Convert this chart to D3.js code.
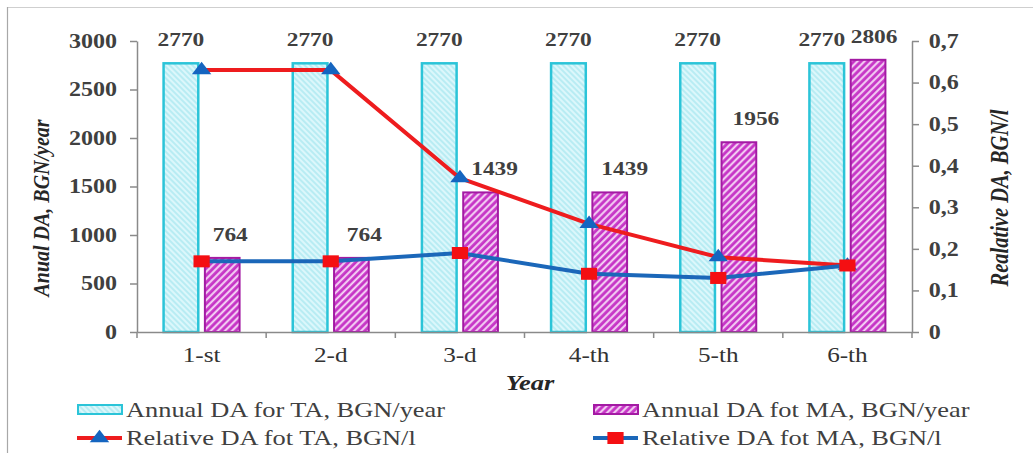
<!DOCTYPE html>
<html>
<head>
<meta charset="utf-8">
<script src="https://cdn.jsdelivr.net/npm/d3@7"></script>
<style>
  html, body { margin: 0; padding: 0; background: #ffffff; }
  svg { display: block; }
  text { font-family: "Liberation Serif", "Times New Roman", serif; }
</style>
</head>
<body>
<svg id="chart" width="1033" height="453"></svg>
<script>
// ---- data ----
const categories = ["1-st", "2-d", "3-d", "4-th", "5-th", "6-th"];
const annualTA   = [2770, 2770, 2770, 2770, 2770, 2770];
const annualMA   = [764, 764, 1439, 1439, 1956, 2806];
const relativeTA = [0.63, 0.63, 0.37, 0.26, 0.18, 0.16];
const relativeMA = [0.17, 0.17, 0.19, 0.14, 0.13, 0.16];
const leftTicks  = [0, 500, 1000, 1500, 2000, 2500, 3000];
const rightTicks = [0, 0.1, 0.2, 0.3, 0.4, 0.5, 0.6, 0.7];
const seriesNames = [
  "Annual DA for TA, BGN/year",
  "Annual DA fot MA, BGN/year",
  "Relative DA fot TA, BGN/l",
  "Relative DA fot MA, BGN/l"
];
const leftTitle  = "Anual DA, BGN/year";
const rightTitle = "Realative DA, BGN/l";
const xTitle     = "Year";

// ---- layout ----
const svg = d3.select("#chart");
const plot = { left: 137, right: 912, top: 41, bottom: 332 };
const SX = 1.2;                  // wide lettering aspect
const MX = 1.35;                 // marker aspect
const textGrey = "#404040";
const axisGrey = "#8a8a8a";
const cyanStroke = "#2bc4d8";
const magStroke = "#a31aa3";
const redLine = "#ee1c1e";
const blueLine = "#1b67b9";

// place a text element with the wide letter aspect
function place(sel, x, y, rot) {
  sel.attr("transform", `translate(${x},${y}) scale(${SX},1)` + (rot ? ` rotate(${rot})` : ""));
  return sel;
}

// outer frame (top and left edges)
svg.append("line").attr("x1", 7).attr("y1", 7.5).attr("x2", 1033).attr("y2", 7.5)
  .attr("stroke", "#cfcfcf").attr("stroke-width", 1.2);
svg.append("line").attr("x1", 7.5).attr("y1", 7).attr("x2", 7.5).attr("y2", 453)
  .attr("stroke", "#a8a8a8").attr("stroke-width", 1.2);

// hatch patterns
const defs = svg.append("defs");
const pTA = defs.append("pattern").attr("id", "hatchTA")
  .attr("patternUnits", "userSpaceOnUse").attr("width", 4).attr("height", 4)
  .attr("patternTransform", "rotate(-45)");
pTA.append("rect").attr("width", 4).attr("height", 4).attr("fill", "#dcf7fb");
pTA.append("line").attr("x1", 1).attr("y1", 0).attr("x2", 1).attr("y2", 4)
  .attr("stroke", "#95e2ec").attr("stroke-width", 1);

const pMA = defs.append("pattern").attr("id", "hatchMA")
  .attr("patternUnits", "userSpaceOnUse").attr("width", 5).attr("height", 5)
  .attr("patternTransform", "rotate(45)");
pMA.append("rect").attr("width", 5).attr("height", 5).attr("fill", "#c634c6");
pMA.append("line").attr("x1", 1.2).attr("y1", 0).attr("x2", 1.2).attr("y2", 5)
  .attr("stroke", "#f6d8f6").attr("stroke-width", 2);

// ---- scales ----
const x0 = d3.scaleBand().domain(categories).range([plot.left, plot.right]);
const bw = x0.bandwidth();
const x1 = d3.scaleBand().domain(["TA", "MA"]).range([bw / 2 - 38, bw / 2 + 38]).paddingInner(0.16);
const yL = d3.scaleLinear().domain([0, 3000]).range([plot.bottom, plot.top]);
const yR = d3.scaleLinear().domain([0, 0.7]).range([plot.bottom, plot.top]);
const cx = i => x0(categories[i]) + bw / 2;

// ---- bars ----
const groups = svg.append("g").selectAll("g").data(categories).join("g")
  .attr("transform", d => `translate(${x0(d)},0)`);
groups.append("rect")
  .attr("x", x1("TA")).attr("width", x1.bandwidth())
  .attr("y", (d, i) => yL(annualTA[i])).attr("height", (d, i) => yL(0) - yL(annualTA[i]))
  .attr("fill", "url(#hatchTA)").attr("stroke", cyanStroke).attr("stroke-width", 2.5);
groups.append("rect")
  .attr("x", x1("MA")).attr("width", x1.bandwidth())
  .attr("y", (d, i) => yL(annualMA[i])).attr("height", (d, i) => yL(0) - yL(annualMA[i]))
  .attr("fill", "url(#hatchMA)").attr("stroke", magStroke).attr("stroke-width", 2);

// ---- axes ----
const gL = svg.append("g").attr("transform", `translate(${plot.left},0)`)
  .call(d3.axisLeft(yL).tickValues(leftTicks).tickSize(7).tickSizeOuter(0).tickPadding(13)
    .tickFormat(d3.format("d")));
const gR = svg.append("g").attr("transform", `translate(${plot.right},0)`)
  .call(d3.axisRight(yR).tickValues(rightTicks).tickSize(7).tickSizeOuter(0).tickPadding(9.7)
    .tickFormat(d => d === 0 ? "0" : d3.format(".1f")(d).replace(".", ",")));
const gX = svg.append("g").attr("transform", `translate(0,${plot.bottom})`)
  .call(d3.axisBottom(x0).tickSize(0).tickSizeOuter(0));

[gL, gR, gX].forEach(g => {
  g.select(".domain").attr("stroke", axisGrey).attr("stroke-width", 1.5);
  g.selectAll(".tick line").attr("stroke", axisGrey).attr("stroke-width", 1.5);
});
[gL, gR].forEach(g => {
  g.selectAll(".tick text")
    .attr("font-size", 20).attr("font-weight", "bold").attr("fill", textGrey)
    .attr("transform", `scale(${SX},1)`)
    .attr("x", function () { return +d3.select(this).attr("x") / SX; });
});
gX.selectAll(".tick text")
  .attr("y", 30).attr("dy", 0)
  .attr("font-size", 21).attr("fill", "#333333")
  .attr("transform", `scale(${SX},1)`)
  .attr("x", 0);
// boundary tick marks on the category axis
const bounds = categories.map(c => x0(c)).concat([plot.right]);
gX.selectAll(".bound").data(bounds).join("line").attr("class", "bound")
  .attr("x1", d => d).attr("x2", d => d).attr("y1", 0).attr("y2", 6)
  .attr("stroke", axisGrey).attr("stroke-width", 1.5);

// ---- lines ----
const lineGen = d3.line().x((d, i) => cx(i)).y(d => yR(d));
svg.append("path").datum(relativeTA).attr("d", lineGen)
  .attr("fill", "none").attr("stroke", redLine).attr("stroke-width", 4).attr("stroke-linejoin", "round");
const tri = d3.symbol().type(d3.symbolTriangle).size(90);
svg.append("g").selectAll("path").data(relativeTA).join("path")
  .attr("d", tri).attr("fill", "#1565c0")
  .attr("transform", (d, i) => `translate(${cx(i)},${yR(d)}) scale(${MX},1)`);

svg.append("path").datum(relativeMA).attr("d", lineGen)
  .attr("fill", "none").attr("stroke", blueLine).attr("stroke-width", 4).attr("stroke-linejoin", "round");
const sq = d3.symbol().type(d3.symbolSquare).size(144);
svg.append("g").selectAll("path").data(relativeMA).join("path")
  .attr("d", sq).attr("fill", "#f40f12")
  .attr("transform", (d, i) => `translate(${cx(i)},${yR(d)}) scale(${MX},1)`);

// ---- value labels ----
const labelLift = 17;
const taLabelNudge = [0, 0, 0, 0, 0, -5];
const maLabelNudge = [8, 13, 14, 15, 17, 6];
const labels = svg.append("g").attr("font-size", 19.5).attr("font-weight", "bold").attr("fill", textGrey)
  .attr("text-anchor", "middle");
annualTA.forEach((v, i) => {
  place(labels.append("text").text(v),
    x0(categories[i]) + x1("TA") + x1.bandwidth() / 2 + taLabelNudge[i], yL(v) - labelLift);
});
annualMA.forEach((v, i) => {
  place(labels.append("text").text(v),
    x0(categories[i]) + x1("MA") + x1.bandwidth() / 2 + maLabelNudge[i], yL(v) - labelLift);
});

// ---- axis titles ----
place(svg.append("text").text(leftTitle)
  .attr("font-size", 20).attr("font-weight", "bold").attr("font-style", "italic")
  .attr("fill", "#262626").attr("text-anchor", "middle"), 49, 208, -90);
place(svg.append("text").text(rightTitle)
  .attr("font-size", 20.5).attr("font-weight", "bold").attr("font-style", "italic")
  .attr("fill", "#262626").attr("text-anchor", "middle"), 1008, 198, -90);
place(svg.append("text").text(xTitle)
  .attr("font-size", 22).attr("font-weight", "bold").attr("font-style", "italic")
  .attr("fill", "#262626").attr("text-anchor", "middle"), 530, 390);

// ---- legend ----
const legend = svg.append("g");
const legendText = (s, x, y) => place(legend.append("text").text(s)
  .attr("font-size", 22).attr("fill", textGrey), x, y);

legend.append("rect").attr("x", 78).attr("y", 405).attr("width", 44).attr("height", 9)
  .attr("fill", "url(#hatchTA)").attr("stroke", cyanStroke).attr("stroke-width", 2);
legendText(seriesNames[0], 126, 417);
legend.append("rect").attr("x", 594).attr("y", 405).attr("width", 44).attr("height", 9)
  .attr("fill", "url(#hatchMA)").attr("stroke", magStroke).attr("stroke-width", 2);
legendText(seriesNames[1], 642, 417);

legend.append("line").attr("x1", 77).attr("x2", 122).attr("y1", 438).attr("y2", 438)
  .attr("stroke", redLine).attr("stroke-width", 4);
legend.append("path").attr("d", tri).attr("fill", "#1565c0")
  .attr("transform", `translate(99.5,438) scale(${MX},1)`);
legendText(seriesNames[2], 126, 445);
legend.append("line").attr("x1", 593).attr("x2", 638).attr("y1", 438).attr("y2", 438)
  .attr("stroke", blueLine).attr("stroke-width", 4);
legend.append("path").attr("d", sq).attr("fill", "#f40f12")
  .attr("transform", `translate(615.5,438) scale(${MX},1)`);
legendText(seriesNames[3], 642, 445);
</script>
</body>
</html>
